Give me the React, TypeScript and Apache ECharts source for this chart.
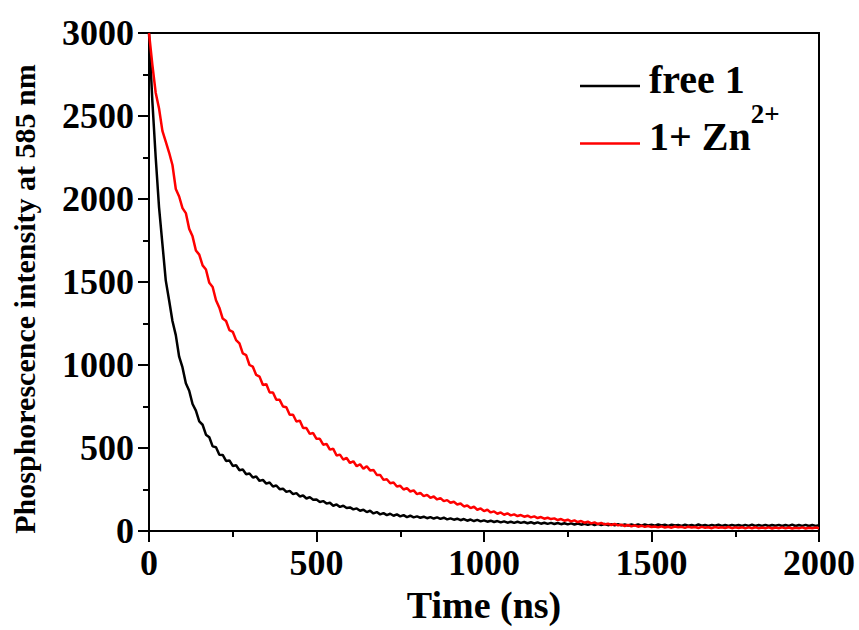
import React, { useEffect, useRef } from "react";
import * as echarts from "echarts";

// sampling step of the decay traces (ns)
const TIME_STEP_NS = 10;

// free 1 (black), 0 … 2000 ns every 10 ns
const free1Values = [
  3000, 2590, 2250, 1950, 1730, 1510, 1390, 1265, 1180, 1050,
  985, 890, 845, 765, 725, 660, 640, 580, 565, 510,
  505, 460, 458, 422, 425, 392, 396, 366, 370, 342,
  346, 322, 328, 302, 308, 285, 292, 268, 274, 252,
  255, 236, 242, 222, 228, 208, 214, 196, 204, 188,
  190, 175, 180, 165, 170, 152, 160, 145, 152, 138,
  142, 130, 136, 122, 128, 114, 122, 106, 114, 100,
  108, 96, 104, 92, 100, 88, 96, 84, 92, 82,
  88, 80, 86, 77, 84, 75, 82, 73, 80, 70,
  76, 68, 74, 65, 72, 62, 69, 60, 67, 58,
  64, 56, 62, 54, 60, 52, 58, 50, 56, 49,
  56, 49, 54, 47, 53, 45, 52, 44, 50, 43,
  49, 42, 48, 41, 47, 40, 46, 39, 45, 38,
  44, 37, 44, 36, 43, 36, 42, 35, 41, 34,
  41, 34, 40, 33, 39, 34, 40, 32, 39, 33,
  38, 32, 39, 33, 38, 31, 38, 33, 37, 31,
  38, 32, 37, 31, 39, 32, 36, 31, 37, 32,
  38, 31, 36, 30, 37, 32, 36, 30, 37, 31,
  38, 30, 36, 31, 37, 30, 36, 32, 37, 30,
  36, 31, 38, 30, 36, 31, 37, 30, 36, 31,
  35,
];

// 1 + Zn2+ (red), 0 … 2000 ns every 10 ns
const znValues = [
  3000, 2810, 2640, 2545, 2410, 2345, 2280, 2205, 2060, 2015,
  1945, 1915, 1820, 1775, 1690, 1665, 1600, 1575, 1495, 1470,
  1390, 1345, 1280, 1265, 1210, 1200, 1150, 1130, 1070, 1060,
  1000, 990, 940, 930, 880, 885, 835, 835, 790, 790,
  750, 745, 700, 700, 660, 665, 620, 620, 585, 590,
  555, 555, 520, 525, 490, 495, 455, 460, 430, 440,
  410, 420, 390, 402, 375, 390, 365, 368, 338, 338,
  308, 312, 288, 292, 268, 272, 250, 258, 238, 245,
  222, 230, 210, 218, 200, 208, 190, 198, 180, 186,
  170, 176, 160, 166, 148, 154, 138, 146, 128, 136,
  120, 128, 112, 118, 104, 112, 98, 106, 94, 100,
  90, 96, 86, 92, 82, 88, 78, 84, 74, 80,
  72, 76, 66, 72, 62, 68, 58, 64, 54, 60,
  50, 56, 46, 52, 42, 48, 40, 44, 36, 42,
  34, 38, 30, 36, 28, 34, 26, 32, 25, 30,
  24, 27, 22, 28, 21, 26, 20, 27, 22, 25,
  19, 26, 21, 24, 18, 25, 20, 23, 17, 24,
  19, 23, 18, 24, 17, 22, 18, 23, 16, 22,
  17, 23, 16, 21, 17, 22, 15, 21, 17, 22,
  16, 21, 15, 20, 16, 22, 15, 20, 16, 21,
  17,
];

const seriesNames = ["free 1", "1+ Zn2+"];
const xTitle = "Time (ns)";
const yTitle = "Phosphorescence intensity at 585 nm";

const FONT = "'Liberation Serif', 'Times New Roman', serif";

const toPairs = (vals: number[]) => vals.map((v, i) => [i * TIME_STEP_NS, v]);

const richMain = { fontFamily: FONT, fontWeight: "bold", fontSize: 40, lineHeight: 46, color: "#000" };

export default function App() {
  const ref = useRef<HTMLDivElement>(null);
  useEffect(() => {
    if (!ref.current) return;
    const chart = echarts.init(ref.current, null, { renderer: "svg" });
    const axisCommon = {
      axisLine: { lineStyle: { color: "#000", width: 2 } },
      axisTick: { show: true, inside: false, length: 11, lineStyle: { color: "#000", width: 2 } },
      minorTick: { show: true, splitNumber: 2, length: 6, lineStyle: { color: "#000", width: 2 } },
      splitLine: { show: false },
      minorSplitLine: { show: false },
    };
    const labelStyle = {
      color: "#000",
      fontFamily: FONT,
      fontWeight: "bold",
      fontSize: 36,
      formatter: (v: number) => String(v),
    };
    chart.setOption({
      animation: false,
      backgroundColor: "#fff",
      grid: {
        left: 149,
        right: 40,
        top: 33,
        bottom: 99,
        show: true,
        borderColor: "#000",
        borderWidth: 2,
        backgroundColor: "transparent",
      },
      xAxis: {
        type: "value",
        min: 0,
        max: 2000,
        interval: 500,
        ...axisCommon,
        axisLabel: { ...labelStyle, margin: 14 },
        name: xTitle,
        nameLocation: "middle",
        nameGap: 43,
        nameTextStyle: { color: "#000", fontFamily: FONT, fontWeight: "bold", fontSize: 38 },
      },
      yAxis: {
        type: "value",
        min: 0,
        max: 3000,
        interval: 500,
        ...axisCommon,
        axisLabel: { ...labelStyle, margin: 15 },
        name: yTitle,
        nameLocation: "middle",
        nameGap: 110,
        nameTextStyle: {
          color: "#000",
          fontFamily: FONT,
          fontWeight: "bold",
          fontSize: 30,
          padding: [0, 34, 0, 0],
        },
      },
      legend: [
        {
          data: [seriesNames[0]],
          left: 580,
          top: 59,
          padding: 0,
          icon: "rect",
          itemWidth: 60,
          itemHeight: 2.5,
          formatter: (name: string) => `{n|${name}}`,
          textStyle: {
            color: "#000",
            fontFamily: FONT,
            fontWeight: "bold",
            fontSize: 40,
            padding: [0, 0, 14, 4],
            rich: { n: richMain },
          },
        },
        {
          data: [seriesNames[1]],
          left: 580,
          top: 100,
          padding: 0,
          icon: "rect",
          itemWidth: 60,
          itemHeight: 2.5,
          formatter: () => "{n|1+ Zn}{s|2+}",
          textStyle: {
            color: "#000",
            fontFamily: FONT,
            fontWeight: "bold",
            fontSize: 40,
            padding: [0, 0, 14, 4],
            rich: {
              n: richMain,
              s: {
                fontFamily: FONT,
                fontWeight: "bold",
                fontSize: 27,
                lineHeight: 30,
                padding: [0, 0, 46, 0],
                color: "#000",
              },
            },
          },
        },
      ],
      series: [
        {
          name: seriesNames[0],
          type: "line",
          data: toPairs(free1Values),
          showSymbol: false,
          symbol: "none",
          lineStyle: { color: "#000", width: 2.5 },
          itemStyle: { color: "#000" },
          z: 2,
        },
        {
          name: seriesNames[1],
          type: "line",
          data: toPairs(znValues),
          showSymbol: false,
          symbol: "none",
          lineStyle: { color: "#ff0000", width: 2.5 },
          itemStyle: { color: "#ff0000" },
          z: 3,
        },
      ],
    });
    return () => chart.dispose();
  }, []);
  return <div ref={ref} style={{ width: 859, height: 630, position: "absolute", left: 0, top: 0 }} />;
}
